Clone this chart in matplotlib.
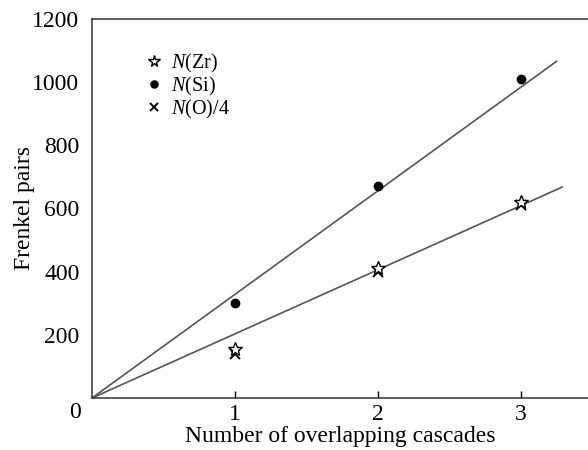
import numpy as np
import matplotlib
matplotlib.use('Agg')
from matplotlib import pyplot as plt

''' matplotlib config '''
plt.rcParams['font.family'] = 'Liberation Serif'
plt.rcParams['mathtext.fontset'] = 'custom'
plt.rcParams['mathtext.rm'] = 'Liberation Serif'
plt.rcParams['mathtext.it'] = 'Liberation Serif:italic'

cascades = [1, 2, 3]
n_zr = [155, 412, 620]
n_si = [300, 672, 1010]
n_o4 = [138, 400, 612]

# fitted lines (through origin): slope, end x
si_slope, si_end = 328, 3.25
zr_slope, zr_end = 203, 3.29

fig = plt.figure(figsize=(5.88, 4.5), dpi=100)
ax = fig.add_axes([0.1565, 0.1156, 0.8435, 0.8422])

line_col = '#555555'
xs = np.array([0, si_end])
ax.plot(xs, si_slope * xs, color=line_col, lw=1.2, zorder=1)
xs = np.array([0, zr_end])
ax.plot(xs, zr_slope * xs, color=line_col, lw=1.2, zorder=1)

ax.plot(cascades, n_zr, ls='none', marker='*', ms=10, mfc='white', mec='black', mew=1.0,
        label='$N$(Zr)', zorder=3)
ax.plot(cascades, n_si, ls='none', marker='o', ms=6, color='black', label='$N$(Si)', zorder=3)
ax.plot(cascades, n_o4, ls='none', marker='x', ms=7, mew=1.4, color='black',
        label='$N$(O)/4', zorder=2)

ax.set_xlim(0, 3.47)
ax.set_ylim(0, 1200)
ax.set_xticks([1, 2, 3])
ax.set_yticks([200, 400, 600, 800, 1000, 1200])
ax.tick_params(axis='x', direction='in', length=5, width=1, labelsize=17, pad=4)
ax.tick_params(axis='y', length=0, labelsize=17, pad=9)
ax.spines['right'].set_visible(False)
for s in ['left', 'top', 'bottom']:
  ax.spines[s].set_linewidth(1.1)
  ax.spines[s].set_color('#333333')
ax.text(-0.035, -0.038, '0', transform=ax.transAxes, fontsize=17, ha='center', va='center')

ax.set_xlabel('Number of overlapping cascades', fontsize=17, labelpad=1)
ax.set_ylabel('Frenkel pairs', fontsize=17)
ax.yaxis.set_label_coords(-0.115, 0.5)

ax.legend(loc='upper left', bbox_to_anchor=(0.095, 0.935), frameon=False, fontsize=14.5,
          handlelength=0.7, handletextpad=0.5, labelspacing=0.0, borderaxespad=0,
          markerscale=0.85)

fig.savefig('out.png', dpi=100)
